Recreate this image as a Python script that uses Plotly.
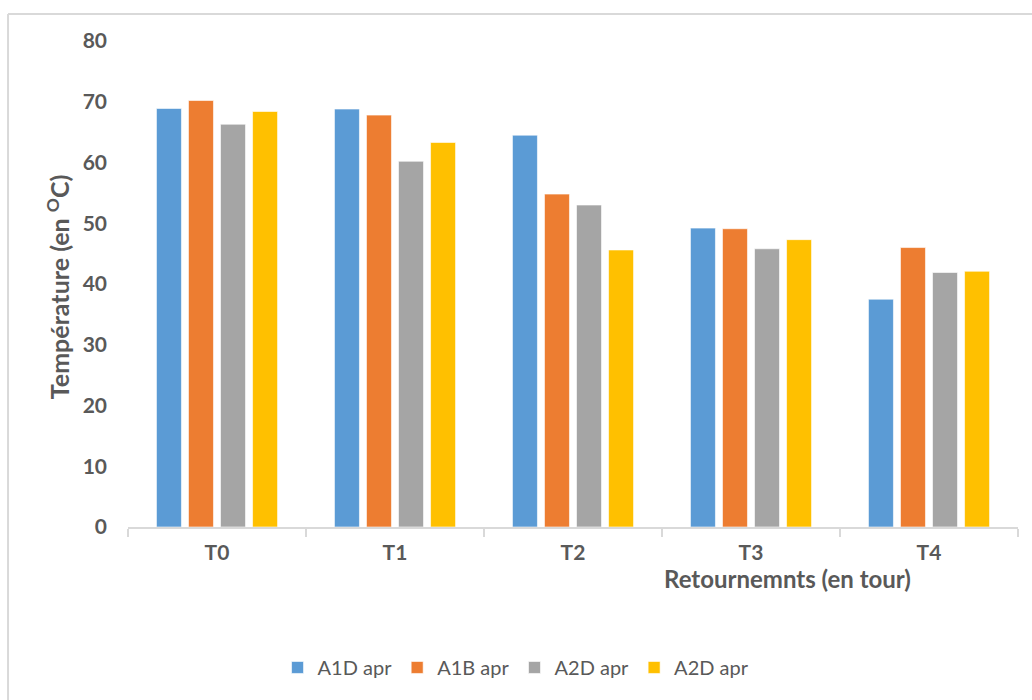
import plotly.graph_objects as go

categories = ["T0", "T1", "T2", "T3", "T4"]
series_names = ["A1D apr", "A1B apr", "A2D apr", "A2D apr"]
a1d_apr = [68.9, 68.8, 64.5, 49.2, 37.5]
a1b_apr = [70.2, 67.8, 54.8, 49.1, 46.0]
a2d_apr_1 = [66.3, 60.2, 53.0, 45.8, 41.9]
a2d_apr_2 = [68.4, 63.3, 45.6, 47.3, 42.1]
colors = ["#5B9BD5", "#ED7D31", "#A5A5A5", "#FFC000"]
y_ticks = [0, 10, 20, 30, 40, 50, 60, 70, 80]

FONT = "Lato, 'Open Sans', sans-serif"
TXT = "#595959"

fig = go.Figure()
for name, vals, col in zip(series_names, [a1d_apr, a1b_apr, a2d_apr_1, a2d_apr_2], colors):
    fig.add_trace(go.Bar(
        x=categories, y=vals, name=name,
        marker=dict(color=col, line=dict(color="rgba(255,255,255,0.6)", width=1)),
    ))

fig.update_layout(
    width=1032, height=700,
    margin=dict(l=128, r=14, t=41, b=173),
    paper_bgcolor="white", plot_bgcolor="white",
    barmode="group", bargap=0.28, bargroupgap=0.22,
    font=dict(family=FONT, color=TXT),
    showlegend=True,
    legend=dict(
        orientation="h", x=0.436, xanchor="center", y=-0.289, yanchor="middle",
        font=dict(size=20, color=TXT, family=FONT),
        itemwidth=30, traceorder="normal",
    ),
    xaxis=dict(
        showline=True, linecolor="#D9D9D9", linewidth=1.5,
        ticks="outside", tickcolor="#D9D9D9", ticklen=8, tickwidth=1.5,
        tickson="boundaries", ticklabelstandoff=6,
        tickfont=dict(size=21, color=TXT, family=FONT, weight="bold"),
        showgrid=False, zeroline=False,
    ),
    yaxis=dict(
        range=[0, 80], tickvals=y_ticks, showgrid=False, zeroline=False,
        showline=False, ticks="", ticklabelstandoff=20,
        tickfont=dict(size=21, color=TXT, family=FONT, weight="bold"),
    ),
    shapes=[
        dict(type="line", xref="paper", yref="paper", x0=-0.1348, x1=1.02,
             y0=1.0557, y1=1.0557, line=dict(color="#D9D9D9", width=2)),
        dict(type="line", xref="paper", yref="paper", x0=-0.1348, x1=-0.1348,
             y0=1.0557, y1=-0.4, line=dict(color="#D9D9D9", width=2)),
    ],
    annotations=[
        dict(text="<b>Retournemnts (en tour)</b>", xref="paper", yref="paper",
             x=(787 - 128) / 890, y=-(578 - 526.7) / 485.7, xanchor="center", yanchor="middle",
             showarrow=False, font=dict(size=24, color=TXT, family=FONT)),
        dict(text="<b>Température (en <sup>O</sup>C)</b>", xref="paper", yref="paper",
             x=(58.5 - 128) / 890, y=(526.7 - 286.5) / 485.7, xanchor="center", yanchor="middle",
             textangle=-90, showarrow=False, font=dict(size=25, color=TXT, family=FONT)),
    ],
)

fig.write_html("out.html", config={"displayModeBar": False},
               post_script="document.body.style.margin='0px';document.body.style.padding='0px';")
